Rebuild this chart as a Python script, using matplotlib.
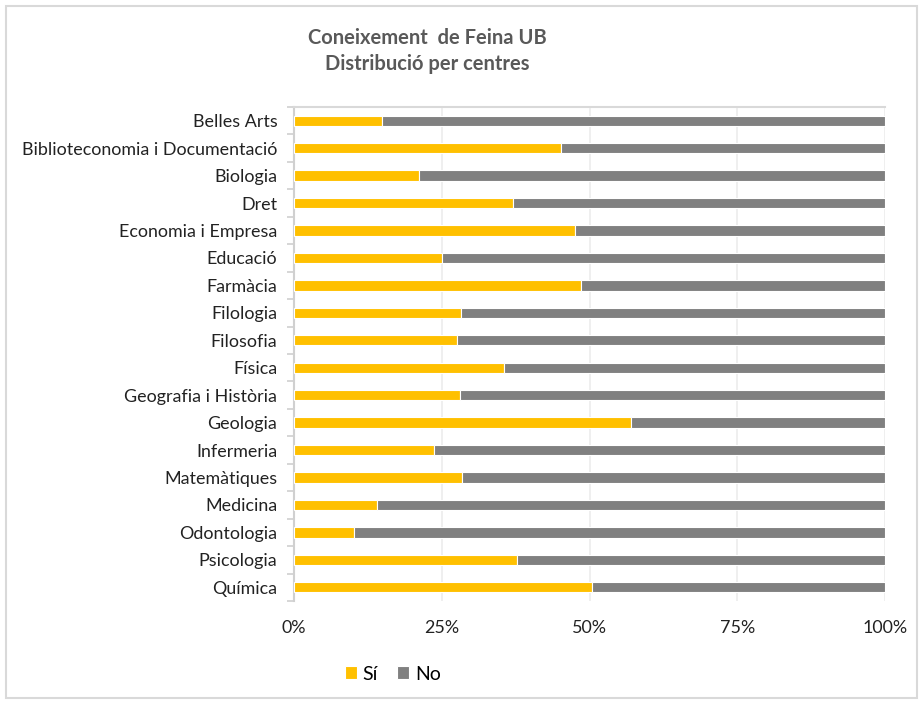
import matplotlib.pyplot as plt
from matplotlib.patches import Rectangle
from matplotlib.ticker import FixedLocator, PercentFormatter

centres = ['Belles Arts', 'Biblioteconomia i Documentació', 'Biologia', 'Dret',
           'Economia i Empresa', 'Educació', 'Farmàcia', 'Filologia', 'Filosofia',
           'Física', 'Geografia i Història', 'Geologia', 'Infermeria',
           'Matemàtiques', 'Medicina', 'Odontologia', 'Psicologia', 'Química']
si = [14.9, 45.2, 21.1, 37.1, 47.5, 25.1, 48.6, 28.3, 27.5,
      35.6, 28.1, 57.1, 23.7, 28.4, 14.0, 10.1, 37.7, 50.5]
no = [100 - v for v in si]

plt.rcParams['font.family'] = ['Lato', 'DejaVu Sans']

fig = plt.figure(figsize=(9.22, 7.04), dpi=100)
ax = fig.add_axes([294 / 922, 1 - 601 / 704, 591 / 922, 494 / 704])

y = list(range(len(centres)))
ax.barh(y, si, height=0.38, color='#ffc000', edgecolor='white', linewidth=0.8, label='Sí', zorder=3)
ax.barh(y, no, left=si, height=0.38, color='#808080', edgecolor='white', linewidth=0.8, label='No', zorder=3)

ax.set_xlim(0, 100)
ax.set_ylim(len(centres) - 0.5, -0.5)
ax.set_yticks(y)
ax.set_yticklabels(centres, fontsize=12.9, color='#222222')
ax.yaxis.set_minor_locator(FixedLocator([i - 0.5 for i in range(len(centres) + 1)]))
ax.tick_params(axis='y', which='major', length=0, pad=12)
ax.tick_params(axis='y', which='minor', length=5, color='#d0d0d0', width=1.2)
ax.set_xticks([0, 25, 50, 75, 100])
ax.xaxis.set_major_formatter(PercentFormatter(decimals=0))
ax.tick_params(axis='x', length=0, pad=14, labelsize=12.9, labelcolor='#222222')
ax.grid(axis='x', color='#ececec', linewidth=1.2, zorder=0)

for s in ['right', 'bottom']:
    ax.spines[s].set_visible(False)
ax.spines['left'].set_color('#d0d0d0')
ax.spines['left'].set_linewidth(1.5)
ax.spines['top'].set_color('#d9d9d9')
ax.spines['top'].set_linewidth(1.5)

fig.text(427 / 922, 1 - 51 / 704, 'Coneixement  de Feina UB\nDistribució per centres',
         ha='center', va='center', fontsize=14.5, fontweight='bold', color='#595959',
         linespacing=1.4)

ax.legend(loc='center', bbox_to_anchor=(393 / 922, 1 - 674 / 704), bbox_transform=fig.transFigure,
          ncol=2, frameon=False, fontsize=14, handlelength=0.6, handleheight=0.6,
          handletextpad=0.3, columnspacing=1.0)

fig.patches.append(Rectangle((6 / 922, 6 / 704), 911 / 922, 692 / 704, transform=fig.transFigure,
                             fill=False, edgecolor='#d9d9d9', linewidth=1.5))

fig.savefig('out.png', dpi=100)
